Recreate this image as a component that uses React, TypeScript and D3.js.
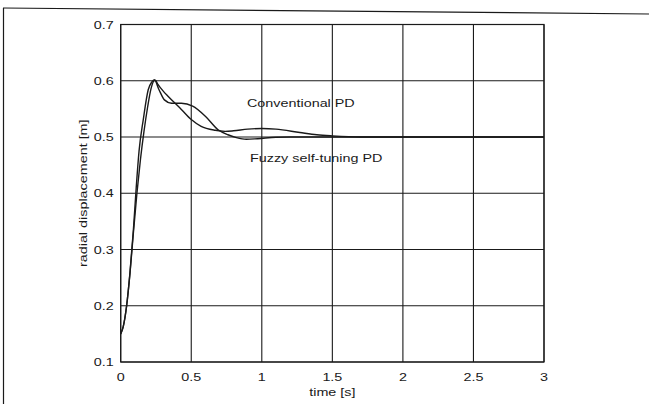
import React from "react";
import * as d3 from "d3";

const W = 649;
const H = 404;

const xTicks = [0, 0.5, 1, 1.5, 2, 2.5, 3];
const xTickLabels = ["0", "0.5", "1", "1.5", "2", "2.5", "3"];
const yTicks = [0.1, 0.2, 0.3, 0.4, 0.5, 0.6, 0.7];
const yTickLabels = ["0.1", "0.2", "0.3", "0.4", "0.5", "0.6", "0.7"];

const convT = [0, 0.018, 0.042, 0.066, 0.09, 0.115, 0.14, 0.165, 0.19, 0.215, 0.236, 0.245, 0.26, 0.3, 0.337, 0.43, 0.5, 0.57, 0.67, 0.74, 0.8, 0.9, 1.0, 1.1, 1.27, 1.39, 1.5, 1.7, 2.0, 2.5, 3.0];
const convV = [0.15, 0.163, 0.2, 0.258, 0.33, 0.4, 0.46, 0.51, 0.552, 0.586, 0.6, 0.601, 0.595, 0.582, 0.572, 0.549, 0.531, 0.519, 0.512, 0.51, 0.511, 0.514, 0.515, 0.514, 0.508, 0.504, 0.502, 0.5, 0.5, 0.5, 0.5];

const fuzzyT = [0, 0.018, 0.042, 0.066, 0.09, 0.11, 0.13, 0.16, 0.195, 0.221, 0.238, 0.27, 0.31, 0.36, 0.43, 0.51, 0.6, 0.69, 0.76, 0.82, 0.89, 0.97, 1.1, 1.2, 1.5, 2.0, 2.5, 3.0];
const fuzzyV = [0.15, 0.163, 0.2, 0.26, 0.335, 0.41, 0.475, 0.531, 0.584, 0.598, 0.602, 0.585, 0.566, 0.56, 0.56, 0.555, 0.537, 0.513, 0.504, 0.499, 0.496, 0.497, 0.4995, 0.5, 0.5, 0.5, 0.5, 0.5];

const seriesLabels = ["Conventional PD", "Fuzzy self-tuning PD"];
const xLabel = "time [s]";
const yLabel = "radial displacement [m]";

export default function App() {
  const left = 120.7, right = 544, top = 24.5, bottom = 362;
  const x = d3.scaleLinear().domain([0, 3]).range([left, right]);
  const y = d3.scaleLinear().domain([0.1, 0.7]).range([bottom, top]);
  const line = d3
    .line<[number, number]>()
    .x((d) => x(d[0]))
    .y((d) => y(d[1]))
    .curve(d3.curveMonotoneX);
  const conv = convT.map((t, i) => [t, convV[i]] as [number, number]);
  const fuzzy = fuzzyT.map((t, i) => [t, fuzzyV[i]] as [number, number]);
  const font = "Arial, 'Liberation Sans', sans-serif";
  const ink = "#1a1a1a";
  const fs = 11.5;
  const sx = 1.25;

  const T = (px: number, py: number, s: string, anchor: string, key?: string) => (
    <text
      key={key}
      transform={`translate(${px},${py}) scale(${sx},1)`}
      fontSize={fs}
      textAnchor={anchor}
      fill={ink}
    >
      {s}
    </text>
  );

  return (
    <svg
      width={W}
      height={H}
      style={{ position: "absolute", left: 0, top: 0, background: "#fff" }}
      fontFamily={font}
    >
      <rect x={0} y={0} width={W} height={H} fill="#fff" />
      {/* outer frame */}
      <line x1={3} y1={8} x2={W} y2={14} stroke={ink} strokeWidth={1.2} />
      <line x1={3.5} y1={8} x2={3.5} y2={H} stroke={ink} strokeWidth={1.2} />
      {/* grid */}
      {xTicks.map((t) => (
        <line key={"gx" + t} x1={x(t)} x2={x(t)} y1={top} y2={bottom} stroke={ink} strokeWidth={1.1} />
      ))}
      {yTicks.map((t) => (
        <line key={"gy" + t} x1={left} x2={right} y1={y(t)} y2={y(t)} stroke={ink} strokeWidth={1.1} />
      ))}
      <rect x={left} y={top} width={right - left} height={bottom - top} fill="none" stroke={ink} strokeWidth={1.2} />
      {/* tick labels */}
      {xTicks.map((t, i) => T(x(t), bottom + 19, xTickLabels[i], "middle", "tx" + t))}
      {yTicks.map((t, i) => T(left - 7, y(t) + 4, yTickLabels[i], "end", "ty" + t))}
      {/* axis labels */}
      {T((left + right) / 2, 396, xLabel, "middle")}
      <text
        transform={`translate(${87},${(top + bottom) / 2}) rotate(-90) scale(${sx},1)`}
        fontSize={fs}
        textAnchor="middle"
        fill={ink}
      >
        {yLabel}
      </text>
      {/* curves */}
      <path d={line(conv) || ""} fill="none" stroke={ink} strokeWidth={1.4} />
      <path d={line(fuzzy) || ""} fill="none" stroke={ink} strokeWidth={1.4} />
      {/* annotations */}
      {T(247, 107, seriesLabels[0], "start")}
      {T(250, 162, seriesLabels[1], "start")}
    </svg>
  );
}
